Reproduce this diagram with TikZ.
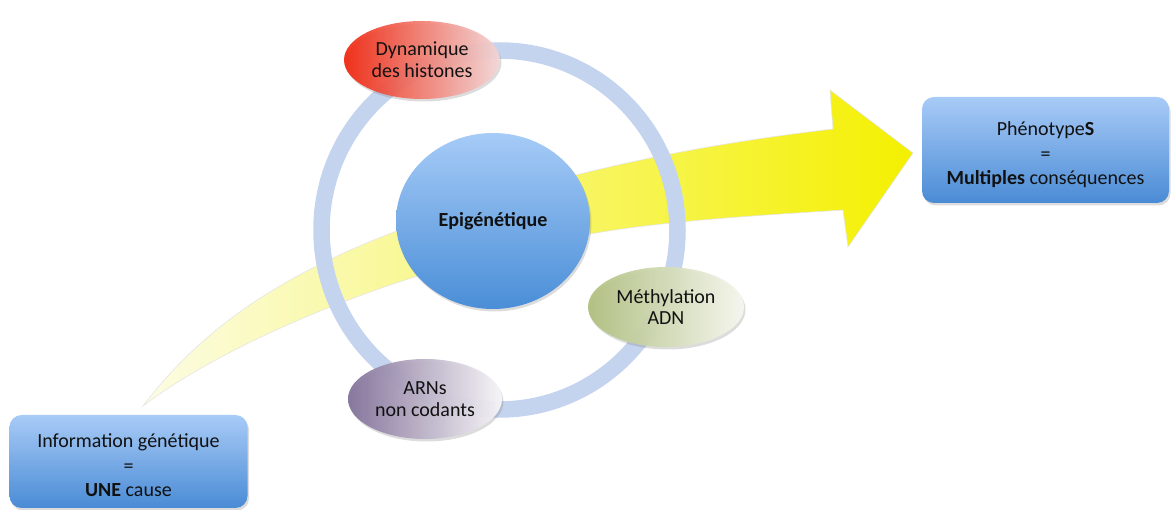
\documentclass[tikz,border=0pt]{standalone}
\usepackage{fontspec}
\setmainfont{Carlito}
\usetikzlibrary{shapes.geometric,shadows}
\definecolor{boxtop}{HTML}{A8CBF7}
\definecolor{boxbot}{HTML}{4A8BD5}
\definecolor{ringcol}{HTML}{C4D4EF}
\definecolor{arrowpale}{HTML}{FCFCE4}
\definecolor{arrowbright}{HTML}{F4F000}
\definecolor{dynleft}{HTML}{F0240C}
\definecolor{dynright}{HTML}{F3D8D8}
\definecolor{methleft}{HTML}{B0C080}
\definecolor{methright}{HTML}{F7F7F0}
\definecolor{arnleft}{HTML}{83729A}
\definecolor{arnright}{HTML}{F8F6F9}
\definecolor{epitop}{HTML}{A6CBF7}
\definecolor{epibot}{HTML}{4A8ED7}
\definecolor{txtcol}{HTML}{111111}
\begin{document}
\begin{tikzpicture}[x=1pt,y=-1pt,
  txt/.style={font=\fontsize{20}{24.5}\selectfont, align=center, text=txtcol},
  smalltxt/.style={font=\fontsize{20}{21.7}\selectfont, align=center, text=txtcol},
  softshadow/.style={drop shadow={opacity=0.28, shadow xshift=1.5pt, shadow yshift=-2.5pt}},
  bluebox/.style={rectangle, rounded corners=12pt, top color=boxtop, bottom color=boxbot,
     inner sep=0pt, txt, softshadow},
  blob/.style={ellipse, inner sep=0pt, smalltxt, softshadow},
  ringstyle/.style={draw=ringcol, line width=16.5pt},
  bigarrow/.style={left color=arrowpale, right color=arrowbright, draw=black!10, line width=0.6pt}
]
\useasboundingbox (0,0) rectangle (1171,510);

% curved yellow arrow
\shade[bigarrow]
  (143,406) .. controls (210,318) and (300,262) .. (450,212)
  .. controls (600,161) and (740,140) .. (833,129)
  -- (830,90) -- (913,153) -- (848,247) -- (843,210)
  .. controls (750,216) and (640,222) .. (560,240)
  .. controls (400,270) and (230,340) .. (143,406) -- cycle;

% ring
\coordinate (ringc) at (499.5,230);
\draw[ringstyle] (ringc) ellipse [x radius=178, y radius=179.5];

% centre
\node[ellipse, inner sep=0pt, minimum width=194pt, minimum height=176pt,
      top color=epitop, bottom color=epibot, softshadow,
      font=\fontsize{20}{22}\selectfont\bfseries, text=txtcol] (epi) at (493,221) {Epigénétique};

% satellites
\node[blob, minimum width=156pt, minimum height=78pt, left color=dynleft, right color=dynright, fill opacity=0.92, text opacity=1]
  (dyn) at (422,60) {Dynamique\\des histones};
\node[blob, minimum width=156pt, minimum height=80pt, left color=methleft, right color=methright, fill opacity=0.95, text opacity=1]
  (meth) at (666,307) {Méthylation\\ADN};
\node[blob, minimum width=154pt, minimum height=80pt, left color=arnleft, right color=arnright, fill opacity=0.95, text opacity=1]
  (arn) at (425,399) {ARNs\\non codants};

% boxes
\node[bluebox, minimum width=238pt, minimum height=93pt] (info) at (128.5,461.5)
  {\rule{0pt}{22pt}Information génétique\\=\\\textbf{UNE} cause};
\node[bluebox, minimum width=247pt, minimum height=106pt] (pheno) at (1045.5,150)
  {\rule{0pt}{24pt}Phénotype\textbf{S}\\=\\\textbf{Multiples} conséquences};
\end{tikzpicture}
\end{document}
